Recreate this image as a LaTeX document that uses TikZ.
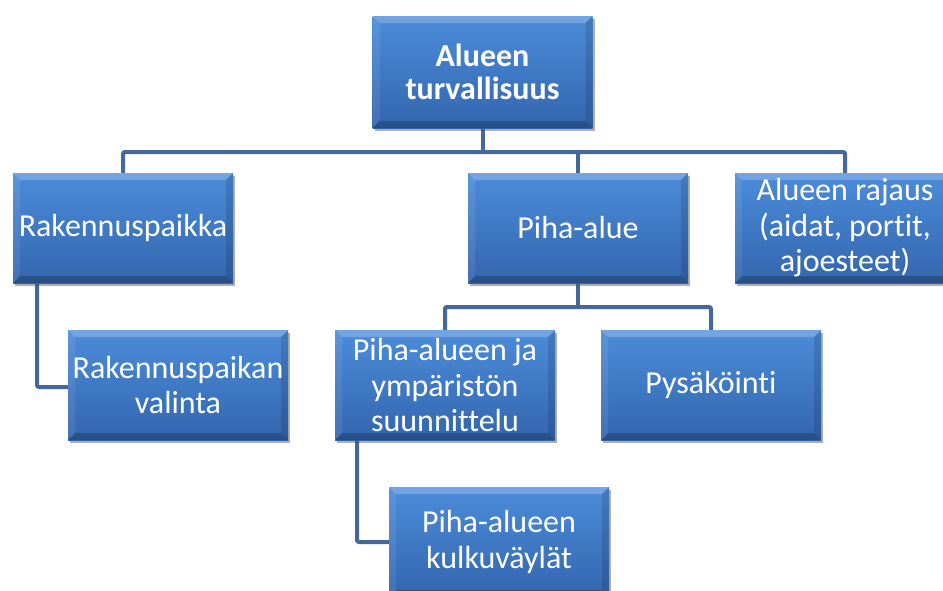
\documentclass[tikz,border=0pt]{standalone}
\usepackage{fontspec}
\setmainfont{Carlito}[Ligatures=NoCommon]
\usetikzlibrary{shadows}
\definecolor{boxtop}{HTML}{4C8CDA}
\definecolor{boxbot}{HTML}{3366AE}
\definecolor{linkcol}{HTML}{44679C}
\tikzset{
  orgbox/.style={
    rectangle, minimum width=220pt, minimum height=110pt, inner sep=2pt,
    top color=boxtop, bottom color=boxbot, draw=none,
    text=white, align=center, font=\fontsize{32}{35.5}\selectfont,
    drop shadow={shadow xshift=2pt, shadow yshift=-3pt, opacity=.45, fill=black!70},
    path picture={
      \coordinate (nw) at (path picture bounding box.north west);
      \coordinate (ne) at (path picture bounding box.north east);
      \coordinate (sw) at (path picture bounding box.south west);
      \coordinate (se) at (path picture bounding box.south east);
      \fill[white, opacity=.22] (nw) -- (ne) -- ([shift={(-7pt,-7pt)}]ne) -- ([shift={(7pt,-7pt)}]nw) -- cycle;
      \fill[white, opacity=.08] (nw) -- ([shift={(7pt,-7pt)}]nw) -- ([shift={(7pt,7pt)}]sw) -- (sw) -- cycle;
      \fill[black, opacity=.12] (ne) -- ([shift={(-7pt,-7pt)}]ne) -- ([shift={(-7pt,7pt)}]se) -- (se) -- cycle;
      \fill[black, opacity=.22] (sw) -- ([shift={(7pt,7pt)}]sw) -- ([shift={(-7pt,7pt)}]se) -- (se) -- cycle;
    }
  },
  link/.style={draw=linkcol, line width=4pt, rounded corners=2pt}
}
\begin{document}
\begin{tikzpicture}[x=1pt, y=-1pt]
  \useasboundingbox (0,0) rectangle (943,590);
  \fill[white] (0,0) rectangle (943,590);
  \clip (0,0) rectangle (943,590);

  % connectors first, boxes on top
  \coordinate (rootc) at (482.5,72);
  \coordinate (rakc) at (123,228);
  \coordinate (pihac) at (578,228);
  \coordinate (rajc) at (845,228);
  \coordinate (valc) at (178,385);
  \coordinate (suunc) at (445,385);
  \coordinate (pysc) at (711,385);
  \coordinate (kulkc) at (499,542);

  \draw[link] (482.5,128) -- (482.5,152);
  \draw[link] (123,173) |- (845,152) -- (845,173);
  \draw[link] (578,152) -- (578,173);
  \draw[link] (578,283) -- (578,307);
  \draw[link] (445,330) |- (711,307) -- (711,330);
  \draw[link] (37,283) |- (68,387);
  \draw[link] (357,439) |- (389,542);

  \node[orgbox, minimum height=112pt, font=\bfseries\fontsize{32}{33}\selectfont] (root) at (rootc) {Alueen\\turvallisuus};
  \node[orgbox] (rak) at (rakc) {Rakennuspaikka};
  \node[orgbox] (piha) at (pihac) {Piha-alue};
  \node[orgbox] (raj) at (rajc) {Alueen rajaus\\(aidat, portit,\\ajoesteet)};
  \node[orgbox] (val) at (valc) {Rakennuspaikan\\valinta};
  \node[orgbox] (suun) at (suunc) {Piha-alueen ja\\ympäristön\\suunnittelu};
  \node[orgbox] (pys) at (pysc) {Pysäköinti};
  \node[orgbox] (kulk) at (kulkc) {Piha-alueen\\kulkuväylät};
\end{tikzpicture}
\end{document}
